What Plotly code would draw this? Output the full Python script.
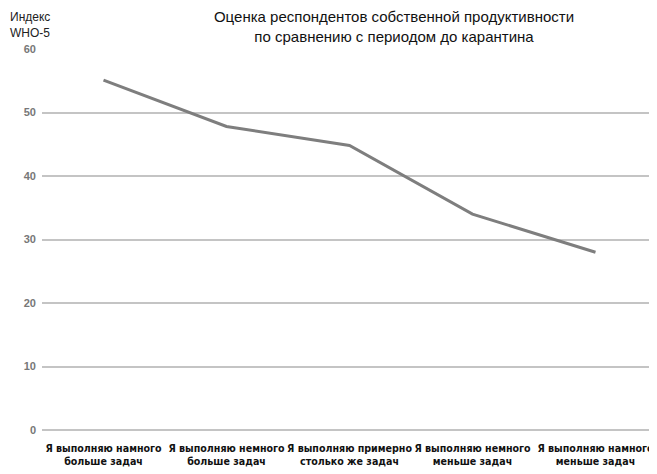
import plotly.graph_objects as go

categories = [
    "Я выполняю намного<br>больше задач",
    "Я выполняю немного<br>больше задач",
    "Я выполняю примерно<br>столько же задач",
    "Я выполняю немного<br>меньше задач",
    "Я выполняю намного<br>меньше задач",
]
values = [55.1, 47.8, 44.8, 34.0, 28.0]
y_ticks = [0, 10, 20, 30, 40, 50, 60]

L, R, T, B = 34, 8, 41, 52
PW = 657 - L - R
PH = 474 - T - B

fig = go.Figure()
fig.add_trace(go.Scatter(
    x=categories, y=values, mode="lines",
    line=dict(color="#7e7e7e", width=3),
    hoverinfo="skip",
))

fig.update_layout(
    width=657, height=474,
    margin=dict(l=L, r=R, t=T, b=B),
    paper_bgcolor="white", plot_bgcolor="white",
    showlegend=False,
    title=dict(
        text="Оценка респондентов собственной продуктивности<br>по сравнению с периодом до карантина",
        x=(386 - L) / PW, xref="paper", xanchor="center", y=0.97, yanchor="top",
        font=dict(family="Liberation Sans, Arial", size=15, color="#111111"),
    ),
    xaxis=dict(
        type="category", range=[-0.5, 4.5], automargin=False,
        showgrid=False, showline=False, zeroline=False, ticks="", ticklen=0,
        tickangle=0,
        tickfont=dict(family="DejaVu Sans Condensed, Liberation Sans", size=10.6, color="#111111", weight="bold"),
        ticklabelstandoff=10,
    ),
    yaxis=dict(
        range=[0, 60], tickvals=y_ticks, automargin=False,
        showgrid=True, gridcolor="#c4c4c4", gridwidth=1.5,
        zeroline=True, zerolinecolor="#c4c4c4", zerolinewidth=1.5,
        showline=False, ticks="", ticklen=0,
        tickfont=dict(family="Liberation Sans, Arial", size=11, color="#777777", weight="bold"),
        ticklabelstandoff=5,
    ),
    annotations=[dict(
        text="Индекс<br>WHO-5", xref="paper", yref="paper",
        x=-L / PW, y=1 + T / PH, xanchor="left", yanchor="top",
        showarrow=False, align="left",
        font=dict(family="Liberation Sans, Arial", size=12, color="#222222"),
    )],
)

fig.write_html("out.html")
